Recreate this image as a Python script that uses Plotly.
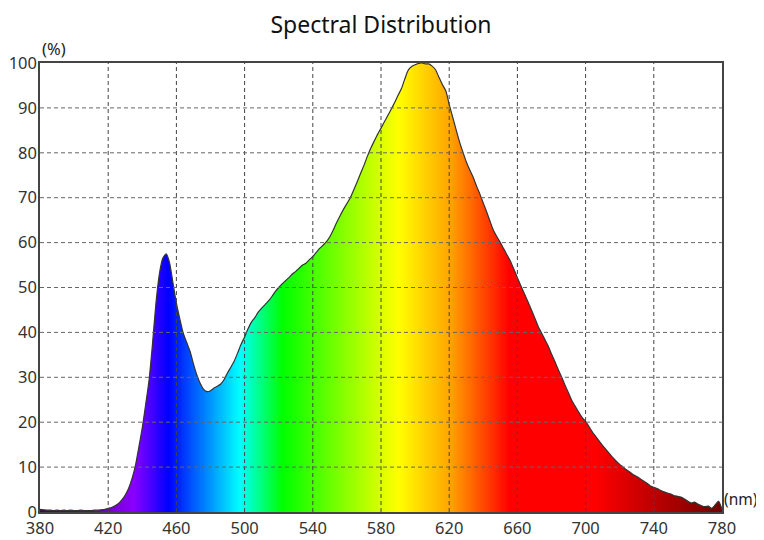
import plotly.graph_objects as go

# ---- data ----
wavelength = list(range(380, 782, 2))
intensity = [
    0.6, 0.5, 0.4, 0.4, 0.3, 0.4, 0.3, 0.4, 0.3, 0.4,   # 380-398
    0.3, 0.3, 0.4, 0.3, 0.3, 0.3, 0.4, 0.4, 0.5, 0.6,   # 400-418
    0.8, 1.0, 1.4, 1.9, 2.7, 3.8, 5.3, 7.5, 10.4, 14.5, # 420-438
    18.8, 24.0, 29.5, 37.5, 46.5, 53.0, 56.5, 57.5, 55.5, 51.0,  # 440-458
    46.5, 43.0, 39.8, 37.8, 35.8, 33.0, 30.5, 28.6, 27.3, 26.8,  # 460-478
    27.0, 27.6, 28.0, 28.5, 29.5, 31.0, 32.3, 33.7, 35.5, 37.4,  # 480-498
    39.0, 40.8, 42.3, 43.3, 44.5, 45.4, 46.2, 47.0, 48.0, 49.1,  # 500-518
    50.0, 50.8, 51.5, 52.2, 53.0, 53.6, 54.3, 55.0, 55.4, 56.2,  # 520-538
    56.9, 57.8, 58.7, 59.4, 60.2, 61.3, 62.8, 64.5, 66.0, 67.4,  # 540-558
    68.7, 70.0, 71.7, 73.5, 75.4, 77.2, 79.2, 81.0, 82.6, 84.1,  # 560-578
    85.5, 86.9, 88.3, 89.7, 91.2, 92.8, 94.3, 96.5, 98.4, 99.2,  # 580-598
    99.6, 99.9, 100.0, 99.8, 99.8, 99.3, 98.5, 96.8, 95.2, 93.8, # 600-618
    90.8, 88.0, 85.2, 82.5, 80.2, 78.0, 76.2, 74.6, 72.6, 70.8,  # 620-638
    68.8, 66.8, 64.7, 62.7, 61.3, 60.0, 58.6, 57.2, 55.8, 54.0,  # 640-658
    52.2, 50.4, 48.7, 47.0, 45.2, 43.4, 41.5, 40.0, 38.5, 37.0,  # 660-678
    35.2, 33.5, 31.7, 30.0, 28.2, 26.5, 24.8, 23.5, 22.2, 21.0,  # 680-698
    20.2, 19.0, 17.8, 16.8, 15.8, 14.8, 13.9, 13.0, 12.1, 11.3,  # 700-718
    10.6, 10.0, 9.4, 8.9, 8.3, 7.9, 7.4, 6.9, 6.4, 5.8,          # 720-738
    5.5, 5.2, 4.8, 4.5, 4.2, 4.0, 3.6, 3.5, 3.3, 2.9,            # 740-758
    2.4, 2.0, 2.2, 1.7, 1.4, 1.2, 1.3, 0.8, 1.6, 2.4,            # 760-778
    0.6,                                                         # 780
]
x_ticks = [380, 420, 460, 500, 540, 580, 620, 660, 700, 740, 780]
y_ticks = [0, 10, 20, 30, 40, 50, 60, 70, 80, 90, 100]

# ---- styling ----
WL_MIN, WL_MAX = 380, 780
spectrum_stops = [
    (380, "#3a0c44"), (415, "#6e00c0"), (435, "#8a00ff"), (455, "#0000ff"),
    (497, "#00ffff"), (522, "#00ff00"), (590, "#ffff00"), (620, "#ffa500"),
    (655, "#ff0000"), (705, "#ff0000"), (780, "#700000"),
]
colorscale = [[(w - WL_MIN) / (WL_MAX - WL_MIN), c] for w, c in spectrum_stops]
FONT = "Noto Sans"
GRID = "#444444"
TICK_SIZE = 16.5

fig = go.Figure()

# rainbow background spanning the whole plot, masked above the curve
fig.add_trace(go.Heatmap(
    x=wavelength, y=[y_ticks[0], y_ticks[-1]],
    z=[wavelength, wavelength],
    colorscale=colorscale, zmin=WL_MIN, zmax=WL_MAX,
    zsmooth="best", showscale=False, hoverinfo="skip",
))
fig.add_trace(go.Scatter(
    x=wavelength, y=intensity, mode="lines",
    line=dict(color="#333333", width=1.2, shape="spline", smoothing=0.6),
    hoverinfo="x+y",
))
fig.add_trace(go.Scatter(
    x=wavelength, y=[y_ticks[-1]] * len(wavelength), mode="lines",
    line=dict(width=0), fill="tonexty", fillcolor="white", hoverinfo="skip",
))

# dashed grid drawn above the fill
for xv in x_ticks[1:-1]:
    fig.add_shape(type="line", x0=xv, x1=xv, y0=y_ticks[0], y1=y_ticks[-1],
                  xref="x", yref="y", layer="above",
                  line=dict(color=GRID, width=1, dash="4px,3px"))
for yv in y_ticks[1:-1]:
    fig.add_shape(type="line", x0=WL_MIN, x1=WL_MAX, y0=yv, y1=yv,
                  xref="x", yref="y", layer="above",
                  line=dict(color="#666666", width=1, dash="4px,3px"))

fig.update_layout(
    width=756, height=532,
    margin=dict(l=32, r=42, t=55, b=28, autoexpand=False),
    paper_bgcolor="white", plot_bgcolor="white",
    showlegend=False,
    font=dict(family=FONT, size=TICK_SIZE, color="#222222"),
    title=dict(text="Spectral Distribution", x=0.5, xref="paper", xanchor="center",
               y=0.968, yanchor="middle",
               font=dict(family=FONT, size=23, color="#111111")),
    xaxis=dict(range=[WL_MIN, WL_MAX], tickvals=x_ticks, showgrid=False,
               zeroline=False, showline=True, linecolor="#444444", linewidth=1.5,
               mirror=True, ticks="", layer="above traces", automargin=False,
               tickfont=dict(size=TICK_SIZE, color="#333333")),
    yaxis=dict(range=[y_ticks[0], y_ticks[-1]], tickvals=y_ticks, showgrid=False,
               zeroline=False, showline=True, linecolor="#444444", linewidth=1.5,
               mirror=True, ticks="", layer="above traces", ticklabelstandoff=-2,
               automargin=False,
               tickfont=dict(size=TICK_SIZE, color="#333333")),
    annotations=[
        dict(text="(%)", xref="paper", yref="paper", x=0.0, y=1.0,
             xanchor="left", yanchor="bottom", yshift=1, showarrow=False,
             font=dict(size=TICK_SIZE, color="#222222")),
        dict(text="(nm)", xref="paper", yref="paper", x=1.0, y=0.0,
             xanchor="left", yanchor="bottom", xshift=1, yshift=1, showarrow=False,
             borderpad=0, font=dict(size=15.5, color="#222222")),
    ],
)

fig.write_html("out.html")
